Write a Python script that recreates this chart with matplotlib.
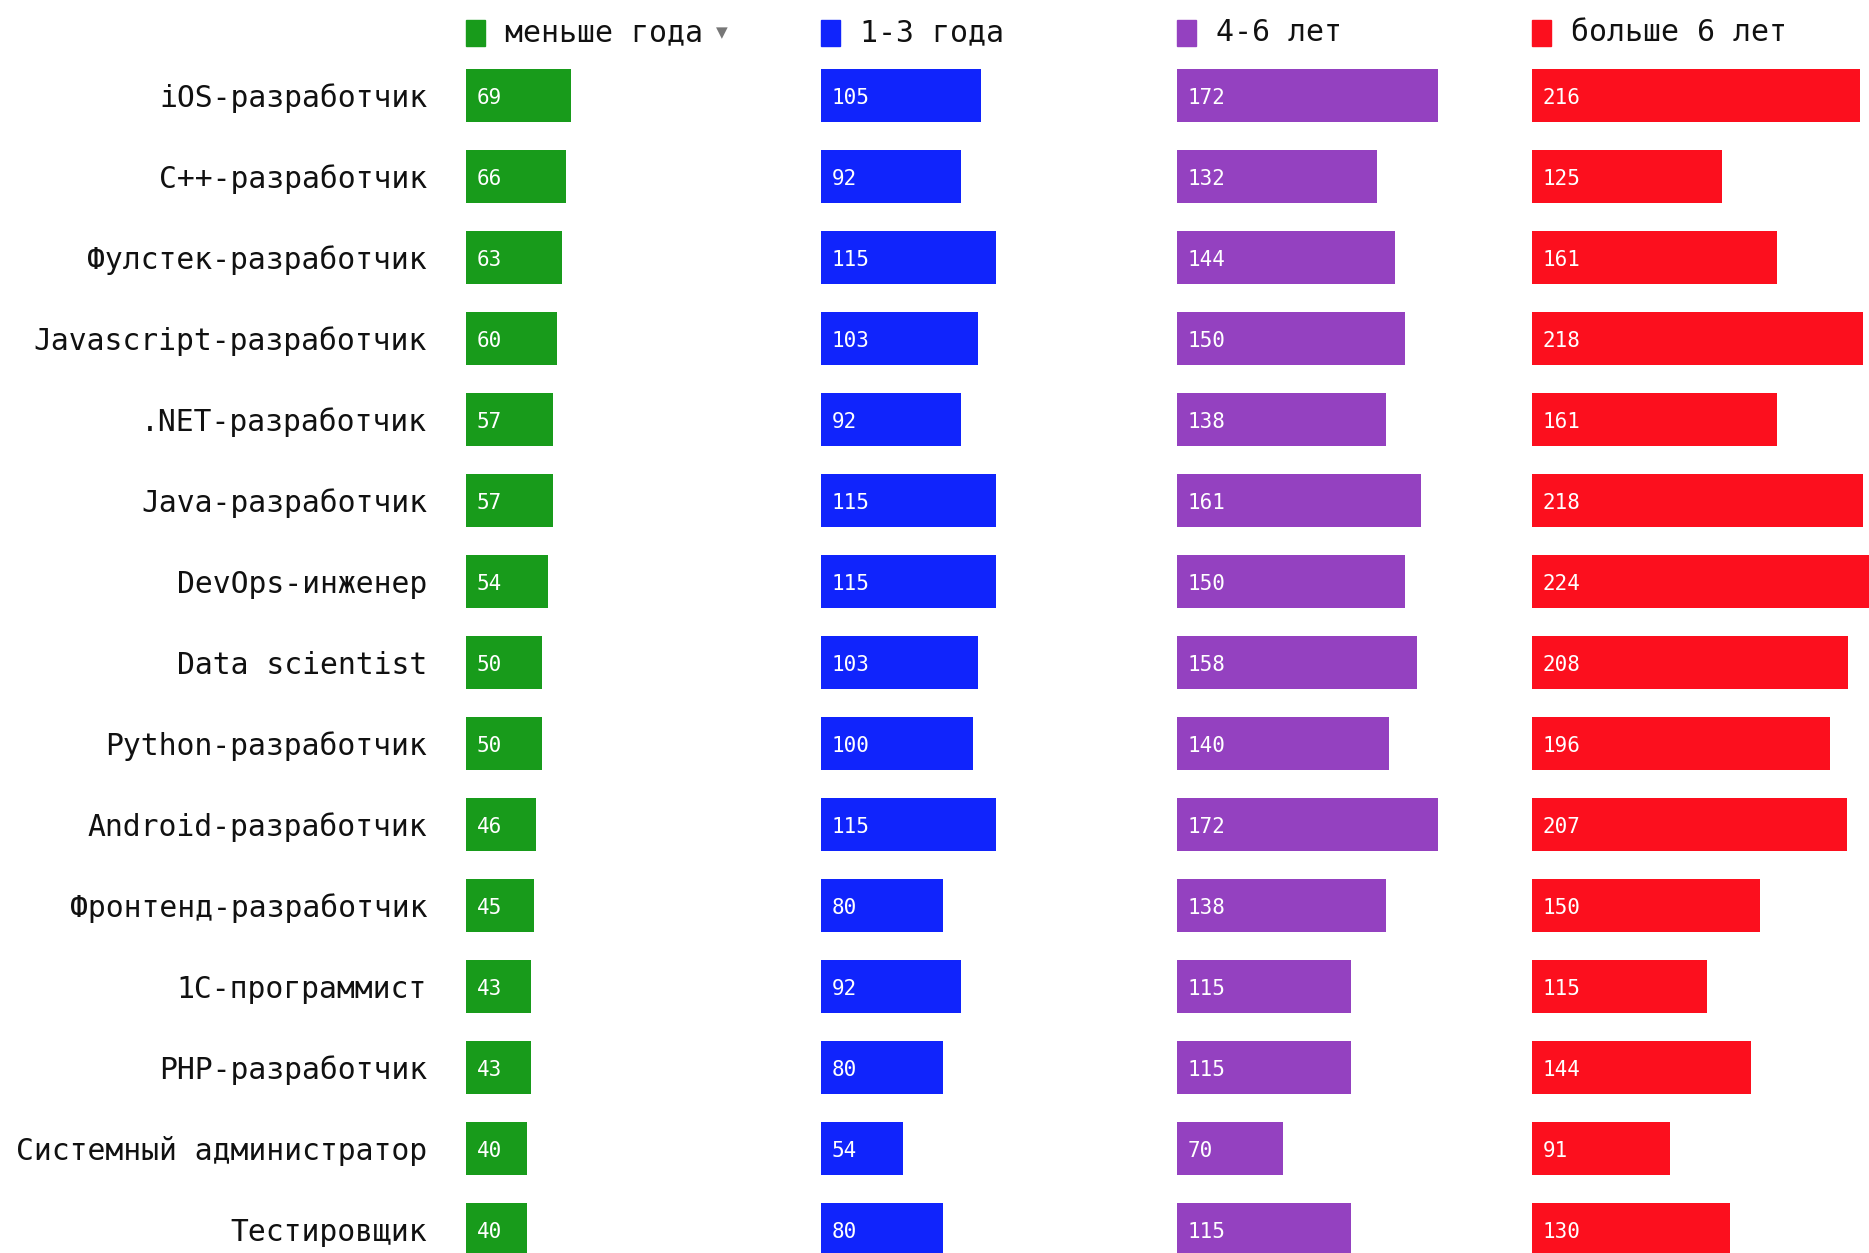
import matplotlib
matplotlib.use("Agg")
import matplotlib.pyplot as plt
from matplotlib.patches import Rectangle

categories = [
    "iOS-разработчик", "C++-разработчик", "Фулстек-разработчик",
    "Javascript-разработчик", ".NET-разработчик", "Java-разработчик",
    "DevOps-инженер", "Data scientist", "Python-разработчик",
    "Android-разработчик", "Фронтенд-разработчик", "1С-программист",
    "PHP-разработчик", "Системный администратор", "Тестировщик",
]
series_names = ["меньше года", "1-3 года", "4-6 лет", "больше 6 лет"]
less_1 = [69, 66, 63, 60, 57, 57, 54, 50, 50, 46, 45, 43, 43, 40, 40]
y1_3 = [105, 92, 115, 103, 92, 115, 115, 103, 100, 115, 80, 92, 80, 54, 80]
y4_6 = [172, 132, 144, 150, 138, 161, 150, 158, 140, 172, 138, 115, 115, 70, 115]
more_6 = [216, 125, 161, 218, 161, 218, 224, 208, 196, 207, 150, 115, 144, 91, 130]
series = [less_1, y1_3, y4_6, more_6]
colors = ["#189b1b", "#1024fc", "#9441c0", "#fc0f1e"]

W, H = 1869, 1253
fig = plt.figure(figsize=(W / 100, H / 100), dpi=100)
FONT = "DejaVu Sans Mono"

px_per_unit = 1.52
col_starts = [466, 821.3, 1176.6, 1532]
row0 = 95.5
row_h = 81.0
bar_h = 53 / row_h
ytop = -row0 / row_h
ybot = (H - row0) / row_h
ys = list(range(len(categories)))
legend_y = (33 - row0) / row_h

for i, (vals, name, c) in enumerate(zip(series, series_names, colors)):
    x0 = col_starts[i]
    wpx = (col_starts[i + 1] - x0) if i < 3 else (W - x0)
    ax = fig.add_axes([x0 / W, 0, wpx / W, 1])
    ax.set_xlim(0, wpx / px_per_unit)
    ax.set_ylim(ybot, ytop)
    ax.barh(ys, vals, height=bar_h, color=c, edgecolor="none")
    for y, v in zip(ys, vals):
        ax.text(7, y + 0.03, str(v), color="white", fontsize=15, family=FONT,
                va="center", ha="left")
    # legend marker and label
    sq_h = 26 / row_h
    ax.add_patch(Rectangle((0, legend_y - sq_h / 2), 19 / px_per_unit, sq_h,
                           color=c, clip_on=False))
    ax.text(39 / px_per_unit, legend_y, name, fontsize=21.5, family=FONT,
            va="center", ha="left", color="#111111")
    if i == 0:
        ax.text(250 / px_per_unit, legend_y, "▼", fontsize=11,
                family="DejaVu Sans", va="center", ha="left", color="#777777")
        ax.set_yticks(ys)
        ax.set_yticklabels(categories, family=FONT, fontsize=21.4, color="#111111")
        ax.tick_params(axis="y", length=0, pad=28)
    else:
        ax.set_yticks([])
    ax.set_xticks([])
    for s in ax.spines.values():
        s.set_visible(False)
    ax.patch.set_alpha(0)

fig.savefig("out.png", dpi=100)
